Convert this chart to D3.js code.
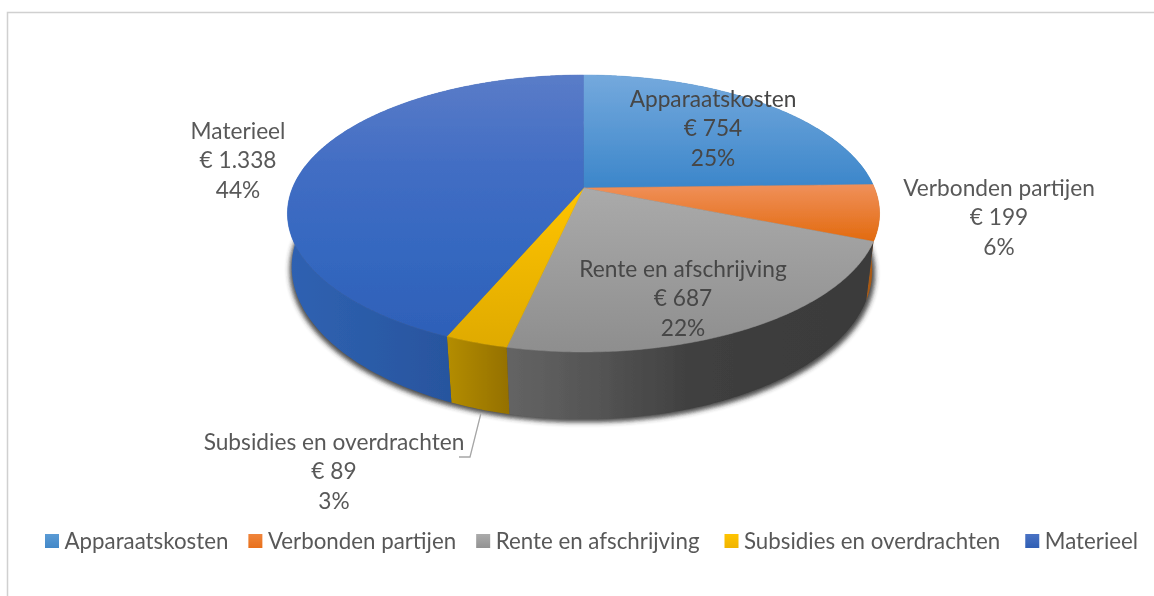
<!DOCTYPE html>
<html><head><meta charset="utf-8">
<script src="https://cdn.jsdelivr.net/npm/d3@7/dist/d3.min.js"></script>
<style>html,body{margin:0;padding:0;background:#fff}svg{display:block}text{font-family:Lato,"Open Sans",sans-serif}</style>
</head><body><svg id="c" width="1154" height="596"></svg>
<script>
const categories = ["Apparaatskosten","Verbonden partijen","Rente en afschrijving","Subsidies en overdrachten","Materieel"];
const values = [754,199,687,89,1338];
const valueLabels = ["€ 754","€ 199","€ 687","€ 89","€ 1.338"];
const percentLabels = ["25%","6%","22%","3%","44%"];
const topStops = [["#74a9dd","#3c86ca"],["#f0905a","#e26a0e"],["#aaaaaa","#8e8e8e"],["#ffc400","#dfaa00"],["#5a7cc8","#436ec4","#3568c0","#2e60b8"]];
const wallStops = [["#2c6ea8","#2c6ea8"],["#a85a14","#a85a14"],["#646464","#545454","#404040","#3c3c3c","#3a3a3a"],["#b48d00","#947000"],["#2f62b2","#224a8e"]];
const legendStops = [["#5b9bd5","#4288c8"],["#f0853c","#e8701a"],["#ababab","#929292"],["#ffc400","#f0b400"],["#4a72c4","#2f5fb4"]];
const labelAnchors = [[713,99],[999,188],[683,269],[334,442],[238,131]];
const legendGaps = [20,20,25,25,0];

const svg = d3.select("#c");
const defs = svg.append("defs");
const cx=583.5, cy=188, Rx=291, Ry=133.8, k=0.184, depth=55;
const project=(a,lower)=>{
  const x=Math.sin(a), y=Math.cos(a), w=1+k*y;
  const shrink = x>0 ? 0.975 : 0.99-0.025*Math.max(0,-y);
  return lower ? [cx+shrink*Rx*x/w, cy-Ry*y/w+depth/w] : [cx+Rx*x/w, cy-Ry*y/w];
};
const angles=(a0,a1)=>{const n=Math.max(2,Math.ceil((a1-a0)/0.01));return d3.range(n+1).map(i=>a0+(a1-a0)*i/n);};
const line=d3.line();
const pie=d3.pie().sort(null).value(d=>d).startAngle(0).endAngle(2*Math.PI);
const arcs=pie(values);

const grad=(id,stops,horizontal)=>{
  const g=defs.append("linearGradient").attr("id",id);
  if(horizontal) g.attr("x1",0).attr("x2",1).attr("y1",0).attr("y2",0);
  else g.attr("x1",0).attr("x2",0).attr("y1",0).attr("y2",1);
  stops.forEach((c,i)=>g.append("stop").attr("offset",i/(stops.length-1)).attr("stop-color",c));
};
categories.forEach((c,i)=>{grad("t"+i,topStops[i],false);grad("w"+i,wallStops[i],true);grad("l"+i,legendStops[i],false);});
defs.append("filter").attr("id","sh").attr("x","-10%").attr("y","-10%").attr("width","120%").attr("height","130%")
  .append("feGaussianBlur").attr("stdDeviation",2.6);
defs.append("filter").attr("id","soft").attr("filterUnits","userSpaceOnUse").attr("x",0).attr("y",0).attr("width",1154).attr("height",596)
  .append("feGaussianBlur").attr("stdDeviation",0.45);

const root=svg.append("g").attr("filter","url(#soft)");

// frame
root.append("path").attr("d","M7.5,596V12.5H1154").attr("fill","none").attr("stroke","#d0d0d0").attr("stroke-width",1.5);

// shadow
const full=angles(0,2*Math.PI);
root.append("path").attr("d",line(full.map(a=>{const p=project(a,true);return [p[0]+(p[0]>cx?3:-2),p[1]+3];}))+"Z")
  .attr("fill","#2a2a2a").attr("opacity",0.85).attr("filter","url(#sh)");

// walls
arcs.forEach((d,i)=>{
  const as=angles(d.startAngle,d.endAngle);
  const pts=as.map(a=>project(a,false)).concat(as.slice().reverse().map(a=>project(a,true)));
  root.append("path").attr("d",line(pts)+"Z").attr("fill",`url(#w${i})`);
});
// top faces, last to first so the seam at twelve o'clock stays closed
arcs.forEach((d,i)=>{
  const pts=[[cx,cy]].concat(angles(d.startAngle,d.endAngle).map(a=>project(a,false)));
  root.append("path").attr("d",line(pts)+"Z").attr("fill",`url(#t${i})`)
    .attr("stroke",`url(#t${i})`).attr("stroke-width",0.5);
});

// leader
root.append("path").attr("d",line([project((arcs[3].startAngle+arcs[3].endAngle)/2,true).map((v,j)=>j?v+5:v+1),[470,457],[459,457]]))
  .attr("fill","none").attr("stroke","#a6a6a6").attr("stroke-width",1.3);

// labels
const labelSize=22.7, legendSize=22.3, pitch=29.5;
categories.forEach((c,i)=>{
  const [x,y]=labelAnchors[i];
  const col=(i===0||i===2)?"#464646":"#595959";
  [c,valueLabels[i],percentLabels[i]].forEach((t,j)=>{
    root.append("text").attr("x",x).attr("y",y+j*pitch).attr("dy","0.35em").attr("text-anchor","middle")
      .attr("font-size",labelSize).attr("fill",col).text(t);
  });
});

// legend
let lx=45; const ly=541;
categories.forEach((c,i)=>{
  root.append("rect").attr("x",lx).attr("y",ly-7).attr("width",14).attr("height",14).attr("fill",`url(#l${i})`);
  const t=root.append("text").attr("x",lx+19.5).attr("y",ly).attr("dy","0.35em").attr("font-size",legendSize).attr("fill","#595959").text(c);
  lx+=19.5+t.node().getComputedTextLength()+legendGaps[i];
});
</script></body></html>
